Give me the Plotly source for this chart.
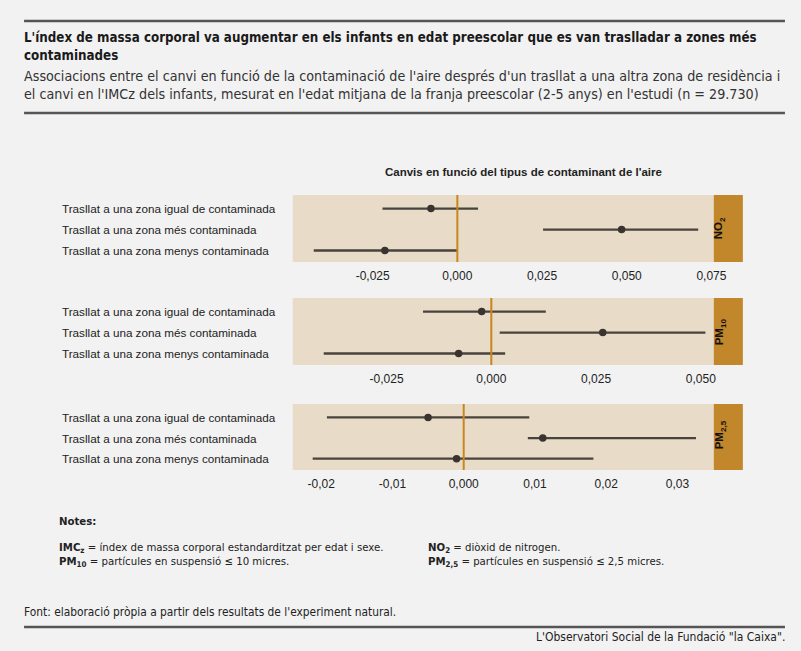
import plotly.graph_objects as go

# estimacions i intervals de confiança llegits del gràfic
files = ["Trasllat a una zona igual de contaminada",
         "Trasllat a una zona més contaminada",
         "Trasllat a una zona menys contaminada"]

no2_est = [-0.0078, 0.0485, -0.0214]
no2_lo = [-0.0221, 0.0253, -0.0424]
no2_hi = [0.0061, 0.0711, -0.0001]

pm10_est = [-0.0023, 0.0266, -0.0078]
pm10_lo = [-0.0163, 0.0020, -0.0400]
pm10_hi = [0.0130, 0.0511, 0.0033]

pm25_est = [-0.0050, 0.0111, -0.0010]
pm25_lo = [-0.0192, 0.0090, -0.0212]
pm25_hi = [0.0092, 0.0326, 0.0182]

no2_ticks = [-0.025, 0, 0.025, 0.05, 0.075]
no2_labels = ["-0,025", "0,000", "0,025", "0,050", "0,075"]
pm10_ticks = [-0.025, 0, 0.025, 0.05]
pm10_labels = ["-0,025", "0,000", "0,025", "0,050"]
pm25_ticks = [-0.02, -0.01, 0, 0.01, 0.02, 0.03]
pm25_labels = ["-0,02", "-0,01", "0,000", "0,01", "0,02", "0,03"]

strips = ["NO<sub>2</sub>", "PM<sub>10</sub>", "PM<sub>2,5</sub>"]

W, H = 801, 651
def px(x):
    return x / W
def py(y):
    return 1 - y / H

BG = "#f2f2f2"
PANEL = "#e8dcc8"
STRIP = "#c3872b"
ZERO = "#c8861e"
DOT = "#3a3430"
NARROW = "DejaVu Sans Condensed, Liberation Sans Narrow, sans-serif"
SANS = "Liberation Sans, Arial, sans-serif"

panels = [
    (no2_est, no2_lo, no2_hi, no2_ticks, no2_labels, [-0.0486, 0.0757], 195, 262, 0),
    (pm10_est, pm10_lo, pm10_hi, pm10_ticks, pm10_labels, [-0.0474, 0.0531], 298, 365, 0),
    (pm25_est, pm25_lo, pm25_hi, pm25_ticks, pm25_labels, [-0.0240, 0.0351], 404, 470, -14),
]

fig = go.Figure()
shapes = []
annots = []

for i, (est, lo, hi, tv, tt, rng, top, bot, sh) in enumerate(panels):
    n = "" if i == 0 else str(i + 1)
    fig.add_trace(go.Scatter(
        x=est, y=[1, 2, 3], mode="markers",
        marker=dict(size=7.5, color=DOT),
        error_x=dict(type="data", symmetric=False,
                     array=[h - e for h, e in zip(hi, est)],
                     arrayminus=[e - l for e, l in zip(est, lo)],
                     width=0, thickness=2.3, color="rgba(55,50,45,0.9)"),
        xaxis="x" + n, yaxis="y" + n, showlegend=False, hoverinfo="x"))
    fig.update_layout(**{
        "xaxis" + n: dict(domain=[px(292), px(712)], range=rng, anchor="y" + n,
                          tickvals=tv, ticktext=tt, showgrid=False, zeroline=False,
                          ticks="", tickfont=dict(family=SANS, size=12, color="#222"),
                          ticklabelstandoff=5, fixedrange=True),
        "yaxis" + n: dict(domain=[py(bot), py(top)], range=[3.55, 0.35], anchor="x" + n,
                          showticklabels=False, showgrid=False,
                          zeroline=False, ticks="", fixedrange=True),
    })
    # etiquetes de fila alineades a l'esquerra
    for k, lab in enumerate(files):
        annots.append(dict(text=lab, xref="paper", yref="y" + n, x=px(60), y=k + 1,
                           xanchor="left", yanchor="middle", showarrow=False,
                           font=dict(family=SANS, size=11.7, color="#222")))
    shapes.append(dict(type="line", xref="x" + n, yref="y" + n + " domain",
                       x0=0, x1=0, y0=0, y1=1, line=dict(color=ZERO, width=2)))
    shapes.append(dict(type="rect", xref="paper", yref="paper", x0=px(712), x1=px(741),
                       y0=py(bot), y1=py(top), fillcolor=STRIP, line=dict(width=0)))
    annots.append(dict(text="<b>" + strips[i] + "</b>", xref="paper", yref="paper",
                       x=px(727), y=py((top + bot) / 2), yshift=sh, textangle=-90,
                       showarrow=False, font=dict(family=SANS, size=11.5, color="#111")))

# regles horitzontals
for yy in [21, 113, 627]:
    shapes.append(dict(type="line", xref="paper", yref="paper", x0=px(24), x1=px(783),
                       y0=py(yy), y1=py(yy), line=dict(color="#555", width=2.5)))

def note(text, x, y, size=11.3, family=NARROW, anchor="left", color="#222"):
    annots.append(dict(text=text, xref="paper", yref="paper", x=px(x), y=py(y),
                       xanchor=anchor, yanchor="middle", showarrow=False, align=anchor,
                       borderpad=0, font=dict(family=family, size=size, color=color)))

note("<b>L'índex de massa corporal va augmentar en els infants en edat preescolar que es van traslladar a zones més</b>", 23, 37, 13.25, color="#1a1a1a")
note("<b>contaminades</b>", 23, 55, 13.25, color="#1a1a1a")
note("Associacions entre el canvi en funció de la contaminació de l'aire després d'un trasllat a una altra zona de residència i", 23, 76, 14.2, color="#333")
note("el canvi en l'IMCz dels infants, mesurat en l'edat mitjana de la franja preescolar (2-5 anys) en l'estudi (n = 29.730)", 23, 94, 14.2, color="#333")
note("<b>Canvis en funció del tipus de contaminant de l'aire</b>", 522, 172, 11.5, SANS, "center")
note("<b>Notes:</b>", 58, 521)
note("<b>IMC<sub>z</sub></b> = índex de massa corporal estandarditzat per edat i sexe.", 58, 548)
note("<b>PM<sub>10</sub></b> = partícules en suspensió ≤ 10 micres.", 58, 562)
note("<b>NO<sub>2</sub></b> = diòxid de nitrogen.", 426, 548)
note("<b>PM<sub>2,5</sub></b> = partícules en suspensió ≤ 2,5 micres.", 426, 562)
note("Font: elaboració pròpia a partir dels resultats de l'experiment natural.", 23, 612, 11.85)
note("L'Observatori Social de la Fundació \"la Caixa\".", 784, 637, 12.0, anchor="right")

# la captura queda una mica comprimida en horitzontal: figura una mica més ampla
fig.update_layout(width=816, height=H, margin=dict(l=0, r=0, t=0, b=0),
                  paper_bgcolor=BG, plot_bgcolor=PANEL, shapes=shapes,
                  annotations=annots)

fig.write_html("out.html", config={"displayModeBar": False},
               post_script="document.body.style.margin='0';document.body.style.overflow='hidden';")
